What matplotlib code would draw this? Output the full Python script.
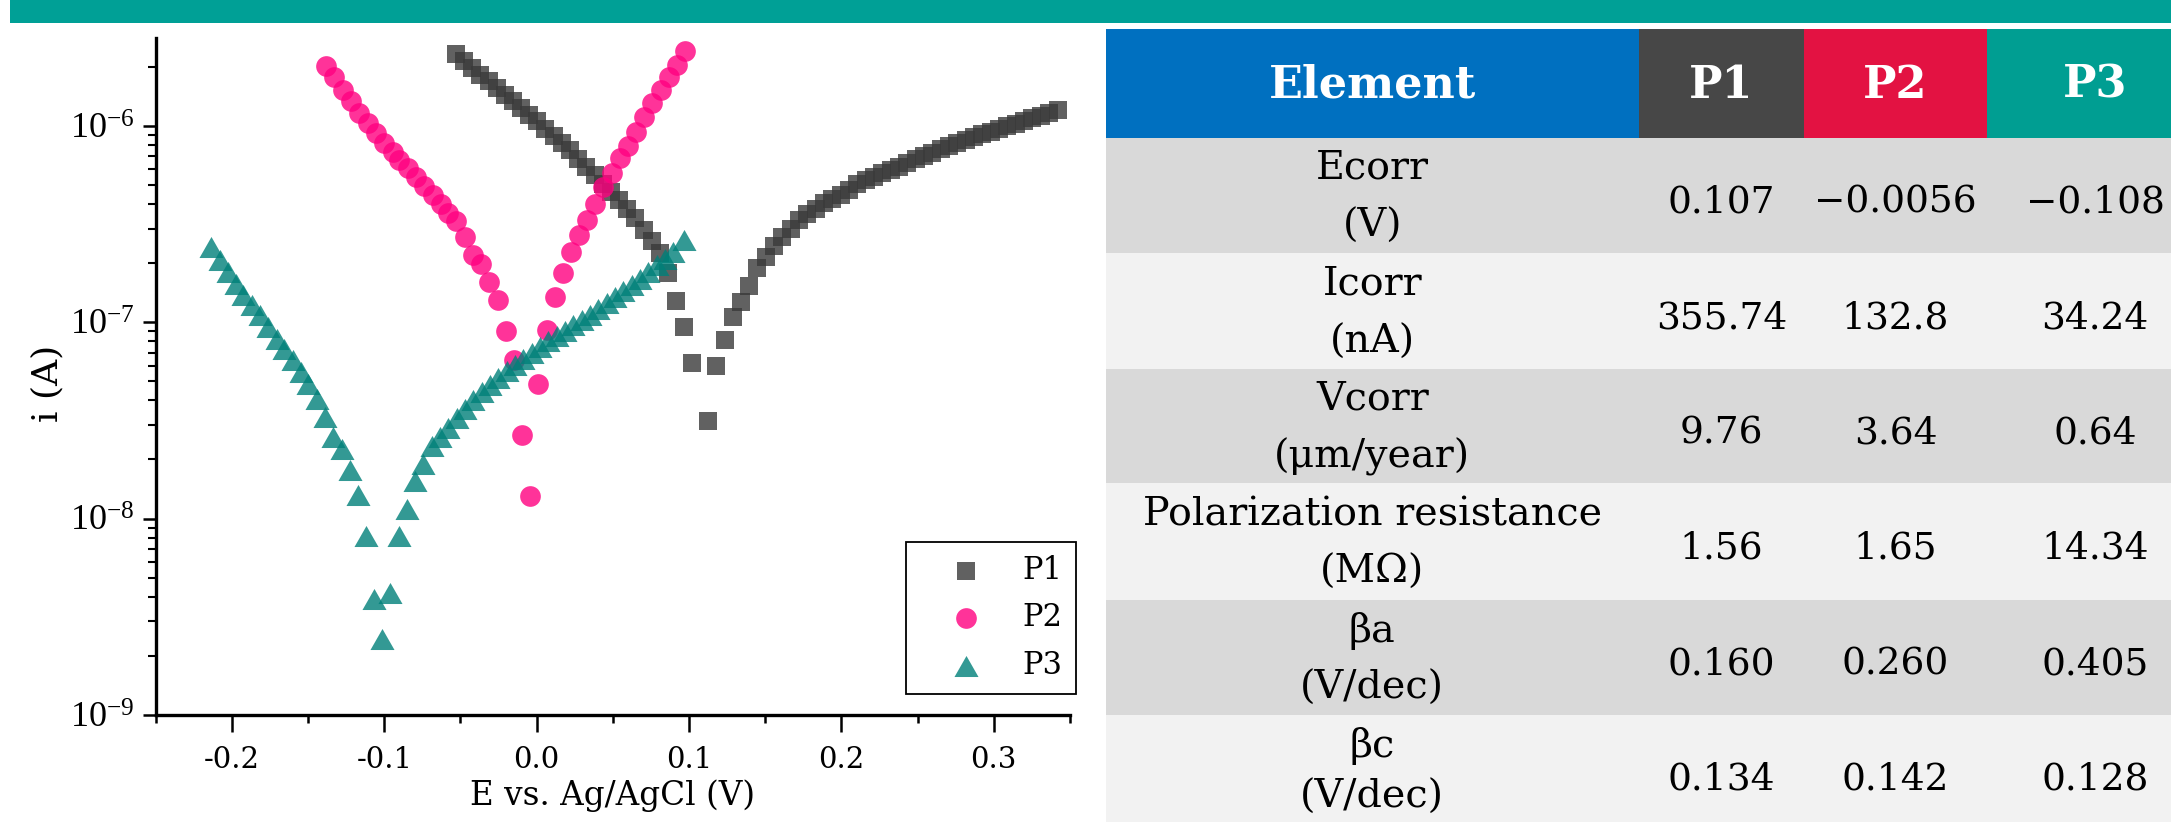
import math
import matplotlib
matplotlib.use('Agg')
import matplotlib.pyplot as plt
from matplotlib.patches import Rectangle
from matplotlib.ticker import MultipleLocator, LogLocator, FixedLocator, FuncFormatter, NullFormatter

plt.rcParams['axes.unicode_minus'] = False
plt.rcParams['mathtext.fontset'] = 'custom'
plt.rcParams['mathtext.rm'] = 'Liberation Serif'
plt.rcParams['mathtext.it'] = 'Liberation Serif:italic'
plt.rcParams['mathtext.bf'] = 'Liberation Serif:bold'

# ---------------- data (E in V vs Ag/AgCl, i in A) ----------------
p1_E = [-0.0529, -0.0477, -0.0424, -0.0372, -0.0316, -0.0260, -0.0208, -0.0155, -0.0103, -0.0050,
        0.0002, 0.0058, 0.0113, 0.0166, 0.0218, 0.0271, 0.0327, 0.0382, 0.0435, 0.0487,
        0.0540, 0.0592, 0.0648, 0.0704, 0.0756, 0.0809, 0.0861, 0.0913, 0.0966, 0.1018,
        0.1123,
        0.1180, 0.1235, 0.1289, 0.1344, 0.1394, 0.1449, 0.1504, 0.1558, 0.1613, 0.1668,
        0.1722, 0.1777, 0.1831, 0.1886, 0.1941, 0.1995, 0.2050, 0.2105, 0.2159, 0.2214,
        0.2269, 0.2323, 0.2378, 0.2433, 0.2487, 0.2542, 0.2597, 0.2651, 0.2706, 0.2761,
        0.2815, 0.2870, 0.2925, 0.2979, 0.3033, 0.3089, 0.3143, 0.3197, 0.3252, 0.3307,
        0.3361, 0.3420]
p1_i = [2.33e-6, 2.14e-6, 1.975e-6, 1.82e-6, 1.696e-6, 1.562e-6, 1.439e-6, 1.341e-6, 1.235e-6, 1.138e-6,
        1.06e-6, 9.66e-7, 8.89e-7, 8.19e-7, 7.50e-7, 6.79e-7, 6.18e-7, 5.63e-7, 5.07e-7, 4.61e-7,
        4.17e-7, 3.78e-7, 3.40e-7, 2.95e-7, 2.60e-7, 2.26e-7, 1.78e-7, 1.28e-7, 9.47e-8, 6.21e-8,
        3.15e-8,
        5.99e-8, 8.13e-8, 1.068e-7, 1.274e-7, 1.532e-7, 1.885e-7, 2.16e-7, 2.43e-7, 2.71e-7, 2.99e-7,
        3.32e-7, 3.55e-7, 3.77e-7, 4.04e-7, 4.25e-7, 4.45e-7, 4.72e-7, 5.07e-7, 5.31e-7, 5.52e-7,
        5.74e-7, 5.97e-7, 6.20e-7, 6.50e-7, 6.77e-7, 7.03e-7, 7.31e-7, 7.61e-7, 7.91e-7, 8.16e-7,
        8.49e-7, 8.76e-7, 9.07e-7, 9.35e-7, 9.66e-7, 9.97e-7, 1.027e-6, 1.060e-6, 1.094e-6, 1.128e-6,
        1.165e-6, 1.206e-6]

p2_E = [-0.1382, -0.1327, -0.1272, -0.1218, -0.1163, -0.1108, -0.1054, -0.0999, -0.0944, -0.0901,
        -0.0846, -0.0791, -0.0739, -0.0683, -0.0631, -0.0582, -0.0527, -0.0473, -0.0418, -0.0363,
        -0.0311, -0.0256, -0.0203, -0.0149, -0.0096, -0.0044,
        0.0010, 0.0066, 0.0120, 0.0174, 0.0225, 0.0279, 0.0332, 0.0386, 0.0437, 0.0492,
        0.0546, 0.0599, 0.0654, 0.0706, 0.0759, 0.0813, 0.0868, 0.0922, 0.0972]
p2_i = [2.02e-6, 1.77e-6, 1.526e-6, 1.33e-6, 1.169e-6, 1.032e-6, 9.18e-7, 8.22e-7, 7.40e-7, 6.71e-7,
        6.09e-7, 5.52e-7, 4.91e-7, 4.43e-7, 3.98e-7, 3.59e-7, 3.26e-7, 2.72e-7, 2.20e-7, 1.98e-7,
        1.61e-7, 1.29e-7, 8.98e-8, 6.43e-8, 2.67e-8, 1.30e-8,
        4.85e-8, 9.14e-8, 1.346e-7, 1.773e-7, 2.29e-7, 2.77e-7, 3.32e-7, 4.02e-7, 4.86e-7, 5.74e-7,
        6.85e-7, 7.91e-7, 9.35e-7, 1.109e-6, 1.302e-6, 1.513e-6, 1.77e-6, 2.045e-6, 2.41e-6]

p3_E = [-0.2136, -0.2081, -0.2026, -0.1972, -0.1924, -0.1869, -0.1814, -0.1760, -0.1705, -0.1655,
        -0.1600, -0.1548, -0.1498, -0.1443, -0.1388, -0.1334, -0.1279, -0.1225, -0.1170, -0.1119,
        -0.1067, -0.1012,
        -0.0960, -0.0905, -0.0852, -0.0798, -0.0744, -0.0689, -0.0634, -0.0580, -0.0525, -0.0470,
        -0.0416, -0.0361, -0.0306, -0.0252, -0.0197, -0.0142, -0.0088, -0.0033, 0.0022, 0.0076,
        0.0131, 0.0186, 0.0240, 0.0295, 0.0350, 0.0404, 0.0459, 0.0513, 0.0568, 0.0623,
        0.0677, 0.0732, 0.0787, 0.0841, 0.0896, 0.0966]
p3_i = [2.42e-7, 2.07e-7, 1.805e-7, 1.562e-7, 1.373e-7, 1.221e-7, 1.086e-7, 9.47e-8, 8.25e-8, 7.34e-8,
        6.41e-8, 5.58e-8, 4.87e-8, 4.08e-8, 3.30e-8, 2.61e-8, 2.27e-8, 1.76e-8, 1.315e-8, 8.13e-9,
        3.88e-9, 2.45e-9,
        4.20e-9, 8.13e-9, 1.12e-8, 1.555e-8, 1.90e-8, 2.345e-8, 2.61e-8, 2.90e-8, 3.26e-8, 3.62e-8,
        4.02e-8, 4.42e-8, 4.80e-8, 5.21e-8, 5.65e-8, 6.06e-8, 6.51e-8, 6.98e-8, 7.49e-8, 7.99e-8,
        8.52e-8, 9.03e-8, 9.64e-8, 1.028e-7, 1.09e-7, 1.17e-7, 1.254e-7, 1.346e-7, 1.443e-7, 1.549e-7,
        1.662e-7, 1.805e-7, 1.948e-7, 2.10e-7, 2.28e-7, 2.62e-7]

series_labels = ["P1", "P2", "P3"]
x_ticks = [-0.2, -0.1, 0.0, 0.1, 0.2, 0.3]
y_ticks = [1e-9, 1e-8, 1e-7, 1e-6]

# table content
table_header = ["Element", "P1", "P2", "P3"]
param_names = ["Ecorr", "Icorr", "Vcorr", "Polarization resistance", "βa", "βc"]
param_units = ["(V)", "(nA)", "(μm/year)", "(MΩ)", "(V/dec)", "(V/dec)"]
p1_vals = ["0.107", "355.74", "9.76", "1.56", "0.160", "0.134"]
p2_vals = ["−0.0056", "132.8", "3.64", "1.65", "0.260", "0.142"]
p3_vals = ["−0.108", "34.24", "0.64", "14.34", "0.405", "0.128"]

# ---------------- styling ----------------
TEAL = '#00A096'
header_colors = ['#0070C0', '#474747', '#E31242', '#009E92']
row_colors = ['#D9D9D9', '#F2F2F2']
c1, c2, c3 = '#3A3A3A', '#FF0080', '#008079'
SERIF = 'DejaVu Serif'

W, H = 2171, 822
fig = plt.figure(figsize=(W / 100, H / 100), dpi=100)

# background layer in pixel coordinates (banner + table)
bg = fig.add_axes([0, 0, 1, 1])
bg.set_xlim(0, W)
bg.set_ylim(H, 0)
bg.axis('off')
bg.add_patch(Rectangle((10, 0), W - 10, 23, color=TEAL, lw=0))

col_edges = [1105.5, 1639, 1804, 1987, 2203]
row_edges = [29, 137.7, 253, 369, 483, 600, 715, 830]

for j in range(4):
    x0, x1 = col_edges[j], col_edges[j + 1]
    bg.add_patch(Rectangle((x0, row_edges[0]), x1 - x0, row_edges[1] - row_edges[0],
                           color=header_colors[j], lw=0))
    bg.text((x0 + x1) / 2, (row_edges[0] + row_edges[1]) / 2 + 2, table_header[j],
            color='white', fontsize=32, fontweight='bold', family=SERIF,
            ha='center', va='center')

vals = [p1_vals, p2_vals, p3_vals]
for r in range(len(param_names)):
    y0, y1 = row_edges[r + 1], row_edges[r + 2]
    yc = (y0 + y1) / 2
    bg.add_patch(Rectangle((col_edges[0], y0), col_edges[-1] - col_edges[0], y1 - y0,
                           color=row_colors[r % 2], lw=0))
    xc = (col_edges[0] + col_edges[1]) / 2
    bg.text(xc, yc - 27, param_names[r], fontsize=28.5, family=SERIF, ha='center', va='center')
    bg.text(xc, min(yc + 31, 797), param_units[r], fontsize=28.5, family=SERIF, ha='center', va='center')
    for j in range(3):
        xcj = (col_edges[j + 1] + col_edges[j + 2]) / 2
        bg.text(xcj, yc + 7, vals[j][r], fontsize=27, family=SERIF, ha='center', va='center')

# ---------------- chart ----------------
ax_l, ax_r, ax_t, ax_b = 155.7, 1070, 38, 715
ax = fig.add_axes([ax_l / W, 1 - ax_b / H, (ax_r - ax_l) / W, (ax_b - ax_t) / H])
ax.set_facecolor('none')
ax.set_yscale('log')

tri = [(0, 0.875), (-1, -0.875), (1, -0.875)]
ax.scatter(p1_E, p1_i, marker='s', s=168, color=c1, alpha=0.8, linewidths=0, label=series_labels[0], clip_on=False, zorder=3)
ax.scatter(p2_E, p2_i, marker='o', s=222, color=c2, alpha=0.8, linewidths=0, label=series_labels[1], clip_on=False, zorder=3)
ax.scatter(p3_E, p3_i, marker=tri, s=300, color=c3, alpha=0.8, linewidths=0, label=series_labels[2], clip_on=False, zorder=3)

ax.set_xlim(-0.25, 0.35)
ax.set_ylim(1e-9, 2.8e-6)

for s in ['top', 'right']:
    ax.spines[s].set_visible(False)
for s in ['left', 'bottom']:
    ax.spines[s].set_linewidth(2.4)

ax.xaxis.set_major_locator(FixedLocator(x_ticks))
ax.xaxis.set_minor_locator(MultipleLocator(0.05))
ax.xaxis.set_major_formatter(FuncFormatter(lambda v, p: f'{v:.1f}'))
ax.yaxis.set_major_locator(FixedLocator(y_ticks))
ax.yaxis.set_minor_locator(LogLocator(base=10, subs=range(2, 10), numticks=20))
ax.yaxis.set_minor_formatter(NullFormatter())
ax.yaxis.set_major_formatter(FuncFormatter(lambda v, p: r'$\mathregular{10^{%d}}$' % round(math.log10(v))))

ax.tick_params(axis='x', which='major', direction='out', length=12, width=1.8, pad=10,
               labelsize=21, labelfontfamily=SERIF)
ax.tick_params(axis='x', which='minor', direction='out', length=6, width=1.8)
ax.tick_params(axis='y', which='major', direction='out', length=9.5, width=1.8, pad=6,
               labelsize=26, labelfontfamily='Liberation Serif')
ax.tick_params(axis='y', which='minor', direction='out', length=6, width=1.5)

ax.set_xlabel('E vs. Ag/AgCl (V)', fontsize=23.5, family=SERIF)
ax.set_ylabel('i (A)', fontsize=26, family=SERIF)
ax.xaxis.set_label_coords(0.4995, -0.095)
ax.yaxis.set_label_coords(-0.100, 0.49)

leg = ax.legend(loc='lower left', bbox_to_anchor=(0.8206, 0.031), borderaxespad=0,
                frameon=True, fancybox=False, edgecolor='black', framealpha=1,
                prop={'family': SERIF, 'size': 22}, handletextpad=0.3, handlelength=3.1,
                borderpad=0.42, labelspacing=0.55, scatterpoints=1)
leg.get_frame().set_linewidth(1.3)

fig.savefig('out.png', dpi=100)
